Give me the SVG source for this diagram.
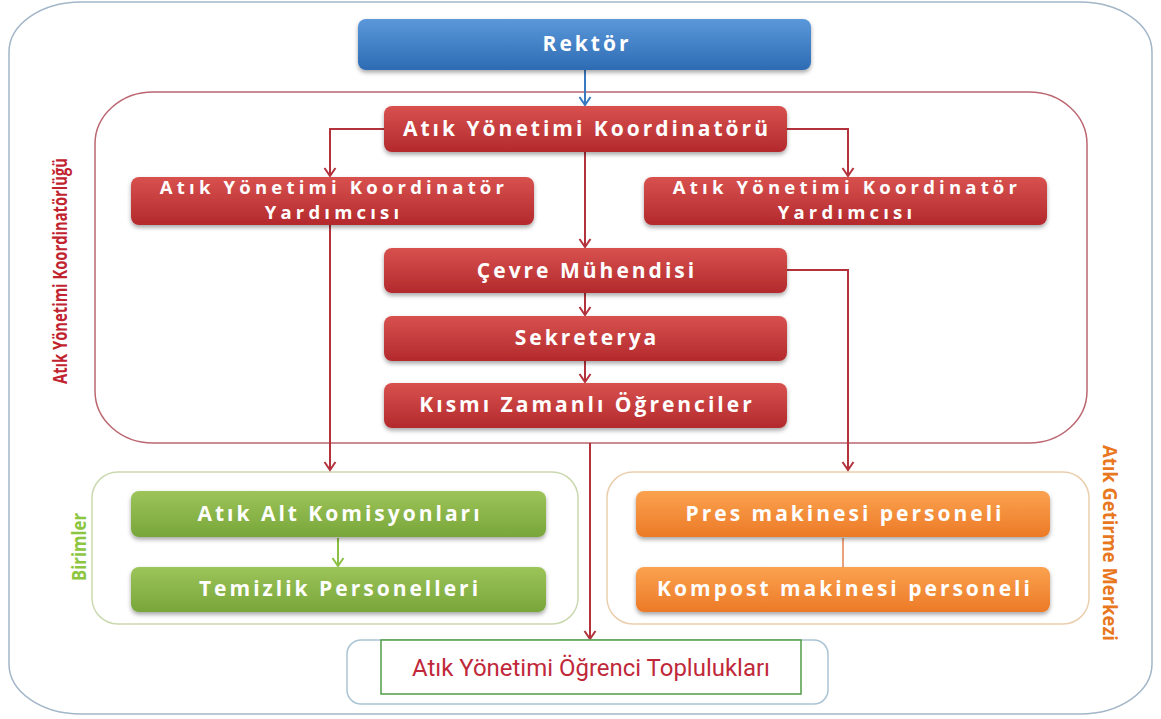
<svg xmlns="http://www.w3.org/2000/svg" width="1161" height="719" viewBox="0 0 1161 719">
<defs>
  <linearGradient id="gBlue" x1="0" y1="0" x2="0" y2="1">
    <stop offset="0" stop-color="#5b98da"/>
    <stop offset="1" stop-color="#2d6bb3"/>
  </linearGradient>
  <linearGradient id="gRed" x1="0" y1="0" x2="0" y2="1">
    <stop offset="0" stop-color="#d8514f"/>
    <stop offset="1" stop-color="#b3292c"/>
  </linearGradient>
  <linearGradient id="gGreen" x1="0" y1="0" x2="0" y2="1">
    <stop offset="0" stop-color="#9cc459"/>
    <stop offset="1" stop-color="#78a63a"/>
  </linearGradient>
  <linearGradient id="gOrange" x1="0" y1="0" x2="0" y2="1">
    <stop offset="0" stop-color="#fba24f"/>
    <stop offset="1" stop-color="#ec7a27"/>
  </linearGradient>
  <filter id="shadow" x="-5%" y="-20%" width="110%" height="150%">
    <feDropShadow dx="0" dy="2.5" stdDeviation="2" flood-color="#000" flood-opacity="0.35"/>
  </filter>
  <marker id="arrR" viewBox="0 0 12 14" refX="10" refY="7" markerWidth="12" markerHeight="14" markerUnits="userSpaceOnUse" orient="auto">
    <path d="M2,1.5 L10,7 L2,12.5" fill="none" stroke="#b3323c" stroke-width="2"/>
  </marker>
  <marker id="arrB" viewBox="0 0 12 14" refX="10" refY="7" markerWidth="12" markerHeight="14" markerUnits="userSpaceOnUse" orient="auto">
    <path d="M2,1.5 L10,7 L2,12.5" fill="none" stroke="#3a78c0" stroke-width="2"/>
  </marker>
  <marker id="arrG" viewBox="0 0 12 14" refX="10" refY="7" markerWidth="12" markerHeight="14" markerUnits="userSpaceOnUse" orient="auto">
    <path d="M2,1.5 L10,7 L2,12.5" fill="none" stroke="#8cc044" stroke-width="2"/>
  </marker>
</defs>
<style>
  .bt { font-family: "Open Sans", "DejaVu Sans", sans-serif; font-weight: 700; font-size: 21px; fill: #ffffff; text-anchor: middle; letter-spacing: 3px; }
  .bt2 { font-size: 18.5px; letter-spacing: 4.2px; }
  .box { filter: url(#shadow); }
  .red { fill: url(#gRed); }
  .blue { fill: url(#gBlue); }
  .green { fill: url(#gGreen); }
  .orange { fill: url(#gOrange); }
  .conn { fill: none; stroke: #b3323c; stroke-width: 2; }
  .side { font-family: "Open Sans", "Liberation Sans", sans-serif; font-weight: 700; font-size: 20px; text-anchor: middle; }
</style>

<!-- containers -->
<g id="outer">
  <rect x="9" y="2" width="1143" height="712" rx="72" ry="50" fill="#ffffff" stroke="#a3b6c8" stroke-width="1.5"/>
</g>
<g id="koordinatorluk">
  <rect x="95" y="92" width="992" height="351" rx="58" ry="52" fill="none" stroke="#bb6670" stroke-width="1.5"/>
  <text class="side" fill="#c1232f" textLength="226" lengthAdjust="spacingAndGlyphs" transform="translate(67,271) rotate(-90)">Atık Yönetimi Koordinatörlüğü</text>
</g>
<g id="birimler">
  <rect x="92" y="472" width="486" height="152" rx="26" ry="26" fill="none" stroke="#cbd9b0" stroke-width="1.5"/>
  <text class="side" fill="#8cc63f" font-size="19" textLength="68" lengthAdjust="spacingAndGlyphs" transform="translate(86,547) rotate(-90)">Birimler</text>
</g>
<g id="getirme">
  <rect x="607" y="472" width="482" height="152" rx="26" ry="26" fill="none" stroke="#e9cfae" stroke-width="1.5"/>
  <text class="side" fill="#e8771d" textLength="196" lengthAdjust="spacingAndGlyphs" transform="translate(1103,543) rotate(90)">Atık Getirme Merkezi</text>
</g>

<!-- connectors -->
<g id="connectors">
  <path class="conn" d="M585,70 V105" style="stroke:#3a78c0" marker-end="url(#arrB)"/>
  <path class="conn" d="M384,129 H330 V176" marker-end="url(#arrR)"/>
  <path class="conn" d="M787,129 H848 V176" marker-end="url(#arrR)"/>
  <path class="conn" d="M585,152 V247" marker-end="url(#arrR)"/>
  <path class="conn" d="M330,225 V470" marker-end="url(#arrR)"/>
  <path class="conn" d="M787,270 H848 V470" marker-end="url(#arrR)"/>
  <path class="conn" d="M585,293 V315" marker-end="url(#arrR)"/>
  <path class="conn" d="M585,361 V382" marker-end="url(#arrR)"/>
  <path class="conn" d="M590,443 V639" marker-end="url(#arrR)"/>
  <path class="conn" d="M338,538 V566" style="stroke:#8cc044" marker-end="url(#arrG)"/>
  <path class="conn" d="M843,538 V567" style="stroke:#e9a27a"/>
</g>

<!-- nodes -->
<g id="rektor">
  <rect class="box blue" x="358" y="19" width="453" height="51" rx="8"/>
  <text class="bt" x="587" y="51">Rektör</text>
</g>
<g id="koordinator">
  <rect class="box red" x="384" y="106" width="403" height="46" rx="8"/>
  <text class="bt" x="587" y="136">Atık Yönetimi Koordinatörü</text>
</g>
<g id="yardimci-sol">
  <rect class="box red" x="131" y="177" width="403" height="48" rx="8"/>
  <text class="bt bt2" x="334" y="194">Atık Yönetimi Koordinatör</text>
  <text class="bt bt2" x="334" y="219">Yardımcısı</text>
</g>
<g id="yardimci-sag">
  <rect class="box red" x="644" y="177" width="403" height="48" rx="8"/>
  <text class="bt bt2" x="847" y="194">Atık Yönetimi Koordinatör</text>
  <text class="bt bt2" x="847" y="219">Yardımcısı</text>
</g>
<g id="cevre">
  <rect class="box red" x="384" y="248" width="403" height="45" rx="8"/>
  <text class="bt" x="587" y="278">Çevre Mühendisi</text>
</g>
<g id="sekreterya">
  <rect class="box red" x="384" y="316" width="403" height="45" rx="8"/>
  <text class="bt" x="587" y="345">Sekreterya</text>
</g>
<g id="kismi">
  <rect class="box red" x="384" y="383" width="403" height="45" rx="8"/>
  <text class="bt" x="587" y="412">Kısmı Zamanlı Öğrenciler</text>
</g>
<g id="komisyon">
  <rect class="box green" x="131" y="491" width="415" height="46" rx="8"/>
  <text class="bt" x="340" y="521">Atık Alt Komisyonları</text>
</g>
<g id="temizlik">
  <rect class="box green" x="131" y="567" width="415" height="45" rx="8"/>
  <text class="bt" x="340" y="596">Temizlik Personelleri</text>
</g>
<g id="pres">
  <rect class="box orange" x="636" y="491" width="414" height="46" rx="8"/>
  <text class="bt" x="845" y="521">Pres makinesi personeli</text>
</g>
<g id="kompost">
  <rect class="box orange" x="636" y="567" width="414" height="45" rx="8"/>
  <text class="bt" x="845" y="596">Kompost makinesi personeli</text>
</g>
<g id="topluluklar">
  <rect x="347" y="640" width="481" height="64" rx="14" ry="14" fill="#ffffff" stroke="#aac4d4" stroke-width="1.5"/>
  <rect x="381" y="640" width="420" height="54" fill="#ffffff" stroke="#4f9d45" stroke-width="1.5"/>
  <text x="591" y="676" font-family="Roboto, 'Open Sans', sans-serif" font-size="24" fill="#c0283a" text-anchor="middle" textLength="358" lengthAdjust="spacingAndGlyphs">Atık Yönetimi Öğrenci Toplulukları</text>
</g>
</svg>
